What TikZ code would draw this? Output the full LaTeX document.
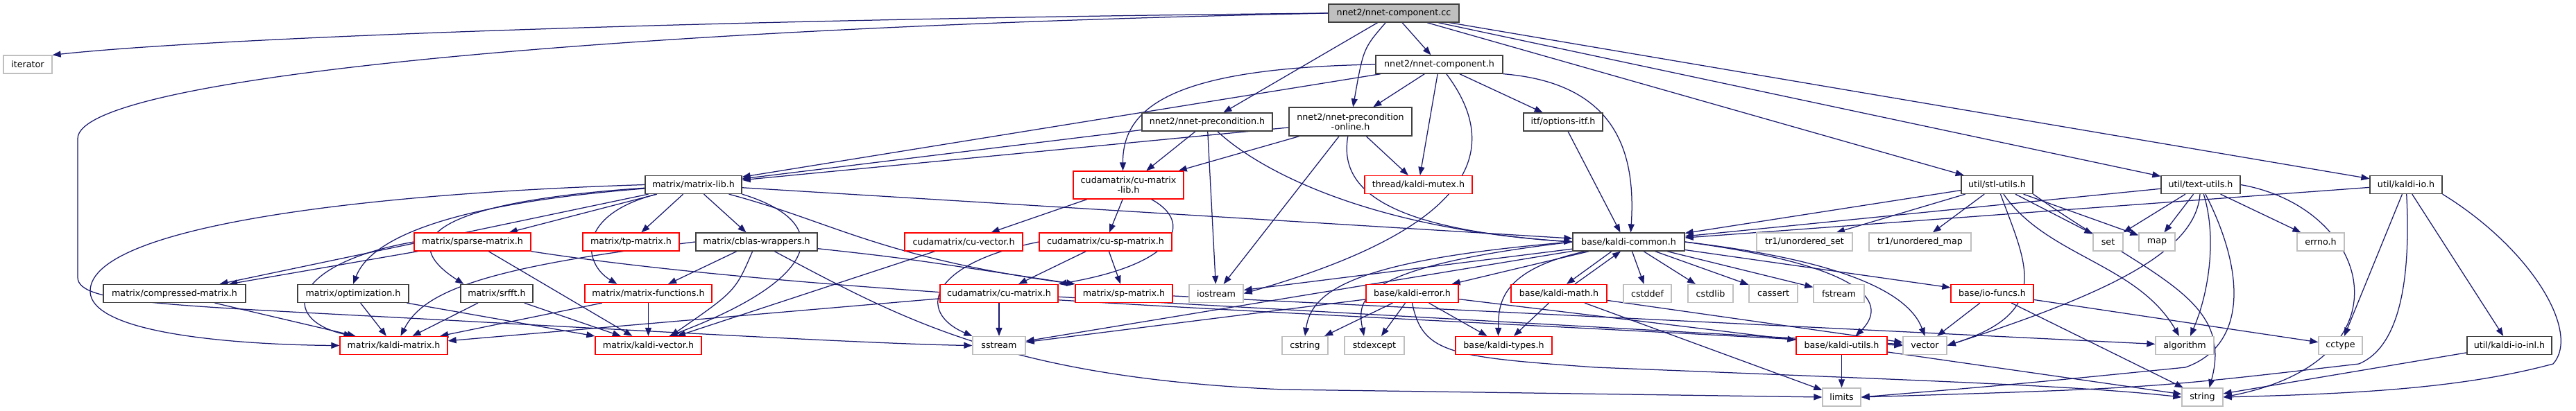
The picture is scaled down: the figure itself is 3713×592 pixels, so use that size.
\documentclass[tikz,border=0pt]{standalone}
\usepackage{fontspec}
\setmainfont{DejaVu Sans}
\usetikzlibrary{arrows.meta,backgrounds}
\definecolor{edgec}{HTML}{191970}
\definecolor{bordc}{HTML}{404040}
\definecolor{greyc}{HTML}{BFBFBF}
\definecolor{redc}{HTML}{FF0000}
\definecolor{rootc}{HTML}{BFBFBF}
\newcommand{\nfont}{\fontsize{12.7}{14}\selectfont}
\tikzset{
 nb/.style={rectangle, draw=bordc, fill=white, line width=1.3pt, minimum height=26pt, inner sep=0pt, font=\nfont, text=black, align=center},
 nr/.style={nb, draw=redc},
 ng/.style={nb, draw=greyc},
 nroot/.style={nb, fill=rootc},
 tall/.style={minimum height=41pt},
 ed/.style={draw=edgec, line width=1.25pt, -{Triangle[length=12pt,width=9pt]}},
}
\begin{document}
\begin{tikzpicture}[x=1pt,y=-1pt]
\useasboundingbox (0,0) rectangle (3713,592);
% row 0-3
\node[nroot, minimum width=188pt] (cc) at (2009,19) {nnet2/nnet-component.cc};
\node[ng, minimum width=70pt] (iter) at (40,93) {iterator};
\node[nb, minimum width=183pt] (comph) at (2074.5,93) {nnet2/nnet-component.h};
\node[nb, minimum width=188pt] (precond) at (1740,176) {nnet2/nnet-precondition.h};
\node[nb, tall, minimum width=177pt] (pol) at (1946.5,175.5) {nnet2/nnet-precondition\\-online.h};
\node[nb, minimum width=114pt] (opt) at (2253,176) {itf/options-itf.h};
\node[nb, minimum width=139pt] (mlib) at (999.5,266.5) {matrix/matrix-lib.h};
\node[nr, minimum height=40pt, minimum width=159pt] (culib) at (1626.5,267) {cudamatrix/cu-matrix\\-lib.h};
\node[nr, minimum width=155pt] (mutex) at (2044.5,266.5) {thread/kaldi-mutex.h};
\node[nb, minimum width=103pt] (stl) at (2878.5,266.5) {util/stl-utils.h};
\node[nb, minimum width=114pt] (text) at (3172,266.5) {util/text-utils.h};
\node[nb, minimum width=104pt] (kio) at (3468,266.5) {util/kaldi-io.h};
% row 4
\node[nr, minimum width=168pt] (sparse) at (681,349) {matrix/sparse-matrix.h};
\node[nr, minimum width=139pt] (tpm) at (909.5,349) {matrix/tp-matrix.h};
\node[nb, minimum width=175pt] (cblas) at (1090.5,349) {matrix/cblas-wrappers.h};
\node[nr, minimum width=170pt] (cuvec) at (1389,349) {cudamatrix/cu-vector.h};
\node[nr, minimum width=191pt] (cusp) at (1593.5,349) {cudamatrix/cu-sp-matrix.h};
\node[nb, minimum width=161pt] (common) at (2347.5,349) {base/kaldi-common.h};
\node[ng, minimum width=138pt] (uset) at (2601,349) {tr1/unordered\_set};
\node[ng, minimum width=147pt] (umap) at (2767.5,349) {tr1/unordered\_map};
\node[ng, minimum width=43pt] (set) at (3038.5,349) {set};
\node[ng, minimum width=52pt] (map) at (3109,349) {map};
\node[ng, minimum width=68pt] (errno) at (3345,349) {errno.h};
% row 5
\node[nb, minimum width=205pt] (cmat) at (251.5,423.5) {matrix/compressed-matrix.h};
\node[nb, minimum width=160pt] (optim) at (509,423.5) {matrix/optimization.h};
\node[nb, minimum width=104pt] (srfft) at (716,423.5) {matrix/srfft.h};
\node[nr, minimum width=183pt] (mfun) at (934.5,423.5) {matrix/matrix-functions.h};
\node[nr, minimum width=170pt] (cumat) at (1440,423.5) {cudamatrix/cu-matrix.h};
\node[nr, minimum width=140pt] (spm) at (1620,423.5) {matrix/sp-matrix.h};
\node[ng, minimum width=78pt] (iostream) at (1753,423.5) {iostream};
\node[nr, minimum width=133pt] (kerror) at (2035.5,423.5) {base/kaldi-error.h};
\node[nr, minimum width=138pt] (kmath) at (2247,423.5) {base/kaldi-math.h};
\node[ng, minimum width=69pt] (cstddef) at (2374.5,423.5) {cstddef};
\node[ng, minimum width=65pt] (cstdlib) at (2465.5,423.5) {cstdlib};
\node[ng, minimum width=70pt] (cassert) at (2556,423.5) {cassert};
\node[ng, minimum width=73pt] (fstream) at (2650.5,423.5) {fstream};
\node[nr, minimum width=119pt] (iofuncs) at (2871.5,423.5) {base/io-funcs.h};
% row 6
\node[nr, minimum width=155pt] (kmat) at (567.5,498.5) {matrix/kaldi-matrix.h};
\node[nr, minimum width=153pt] (kvec) at (934.5,498.5) {matrix/kaldi-vector.h};
\node[ng, minimum width=76pt] (sstream) at (1440,498.5) {sstream};
\node[ng, minimum width=66pt] (cstring) at (1881,498.5) {cstring};
\node[ng, minimum width=86pt] (stdexcept) at (1981,498.5) {stdexcept};
\node[nr, minimum width=139pt] (ktypes) at (2167.5,498.5) {base/kaldi-types.h};
\node[nr, minimum width=131pt] (kutils) at (2654.5,498.5) {base/kaldi-utils.h};
\node[ng, minimum width=63pt] (vector) at (2774.5,498.5) {vector};
\node[ng, minimum width=84pt] (algo) at (3149,498.5) {algorithm};
\node[ng, minimum width=63pt] (cctype) at (3373.5,498.5) {cctype};
\node[nb, minimum width=122pt] (kioinl) at (3617,498.5) {util/kaldi-io-inl.h};
% row 7
\node[ng, minimum width=55pt] (limits) at (2654.5,573) {limits};
\node[ng, minimum width=59pt] (string) at (3174.5,573) {string};

\begin{pgfonlayer}{background}
% cc
\draw[ed] (cc.west) .. controls (1000,28) and (300,55) .. (iter.north east);
\draw[ed] (cc.west) .. controls (900,40) and (112,110) .. (112,200) -- (112,400) .. controls (112,440) and (250,440) .. (700,465) .. controls (1100,487) and (1300,497) .. (sstream.west);
\draw[ed] (cc) -- (comph);
\draw[ed] (cc) -- (precond);
\draw[ed] (cc) .. controls (1965,70) .. (pol);
\draw[ed] (cc) -- (stl);
\draw[ed] (cc) -- (text);
\draw[ed] (cc) -- (kio);
% comph
\draw[ed] (comph) -- (mlib);
\draw[ed] (comph.west) .. controls (1700,98) and (1618,150) .. ([xshift=-8pt]culib.north);
\draw[ed] (comph) -- (pol);
\draw[ed] (comph) -- (mutex);
\draw[ed] (comph) -- (opt);
\draw[ed] (comph) .. controls (2170,220) and (2120,330) .. (iostream.east);
\draw[ed] (comph.south east) .. controls (2330,120) and (2358,220) .. ([xshift=3pt]common.north);
% precond
\draw[ed] (precond) -- (mlib);
\draw[ed] (precond) -- (culib);
\draw[ed] (precond) -- (iostream);
\draw[ed] (precond) .. controls (1820,250) and (1980,330) .. (common.west);
% pol
\draw[ed] (pol) -- (mlib);
\draw[ed] (pol) -- (culib);
\draw[ed] (pol) -- (iostream);
\draw[ed] (pol) -- (mutex);
\draw[ed] (pol) .. controls (1930,270) and (1990,330) .. (common.west);
% opt
\draw[ed] (opt) -- ([xshift=-12pt]common.north);
% mlib
\draw[ed] (mlib) -- (common);
\draw[ed] (mlib.west) .. controls (500,280) and (130,330) .. (130,420) .. controls (130,490) and (400,498) .. (kmat.west);
\draw[ed] (mlib) -- (sparse);
\draw[ed] (mlib) -- (cmat);
\draw[ed] (mlib) .. controls (700,290) and (540,330) .. (optim.north);
\draw[ed] (mlib) .. controls (650,290) and (560,340) .. ([xshift=5pt]srfft.north west);
\draw[ed] (mlib) .. controls (830,310) and (840,380) .. ([xshift=-45pt]mfun.north);
\draw[ed] (mlib) -- (tpm);
\draw[ed] (mlib) -- (cblas);
\draw[ed] (mlib.south east) .. controls (1200,320) and (1190,400) .. ([xshift=30pt]kvec.north);
\draw[ed] (mlib) .. controls (1200,320) and (1270,372) .. (spm.north west);
% culib
\draw[ed] (culib) -- (cuvec);
\draw[ed] (culib) -- (cusp);
\draw[ed] ([xshift=33pt]culib.south) .. controls (1720,320) and (1700,380) .. (cumat.north east);
% sparse
\draw[ed] (sparse.west) .. controls (420,380) and (400,460) .. ([xshift=-60pt]kmat.north);
\draw[ed] (sparse) -- (cmat);
\draw[ed] (sparse) -- (kvec);
\draw[ed] (sparse.south east) .. controls (1200,430) and (2000,455) .. (vector.west);
% matrix row 5
\draw[ed] (cmat) -- ([xshift=-55pt]kmat.north);
\draw[ed] (optim) -- (kmat);
\draw[ed] (optim) -- (kvec);
\draw[ed] (srfft) -- (kmat);
\draw[ed] (srfft) -- (kvec);
\draw[ed] (mfun) -- (kmat);
\draw[ed] (mfun) -- (kvec);
% cblas
\draw[ed] (cblas) -- (mfun);
\draw[ed] (cblas) .. controls (1060,420) .. ([xshift=32pt]kvec.north);
\draw[ed] (cblas.west) .. controls (700,385) and (610,420) .. ([xshift=10pt]kmat.north);
\draw[ed] (cblas) .. controls (1300,372) .. (spm.north west);
\draw[ed] (cblas) .. controls (1300,460) and (1450,545) .. (1850,562) -- (limits.west);
% cuda
\draw[ed] (cuvec) -- (kvec);
\draw[ed] (cusp) -- (cumat);
\draw[ed] (cusp) -- (spm);
\draw[ed] (cusp.west) .. controls (1340,380) and (1320,450) .. (sstream.north west);
\draw[ed] (cumat) -- (sstream);
\draw[ed] (cumat) -- (kmat);
\draw[ed] (cumat) -- (vector);
\draw[ed] (spm) -- (algo);
% common
\draw[ed] (common.west) .. controls (1950,375) and (1890,420) .. (cstring.north);
\draw[ed] (common.west) .. controls (1960,385) and (1955,430) .. ([xshift=-15pt]stdexcept.north);
\draw[ed] (common) -- (kerror);
\draw[ed] (common) .. controls (2160,390) and (2160,440) .. ([xshift=-8pt]ktypes.north);
\draw[ed] ([xshift=-24.5pt]common.south) -- ([xshift=11pt]kmath.north);
\draw[ed] ([xshift=23pt]kmath.north) -- ([xshift=-11.5pt]common.south);
\draw[ed] (common) -- (cstddef);
\draw[ed] (common) -- (cstdlib);
\draw[ed] (common) -- (cassert);
\draw[ed] (common) -- (fstream);
\draw[ed] (common) -- (iofuncs);
\draw[ed] (common.east) .. controls (2700,385) and (2720,440) .. ([xshift=20pt]kutils.north);
\draw[ed] (common.east) .. controls (2650,375) and (2750,420) .. (vector.north);
\draw[ed] (common) -- (iostream);
\draw[ed] (common) -- (sstream);
% kerror
\draw[ed] (kerror) -- (cstring);
\draw[ed] (kerror) -- (stdexcept);
\draw[ed] (kerror) -- (ktypes);
\draw[ed] (kerror) -- (sstream);
\draw[ed] (kerror) -- (kutils);
\draw[ed] (kerror.south) .. controls (2050,510) and (2090,515) .. (2300,530) .. controls (2800,550) and (3000,557) .. (string.west);
% kmath
\draw[ed] (kmath) -- (ktypes);
\draw[ed] (kmath) -- (limits);
\draw[ed] (kmath) -- (vector);
% kutils
\draw[ed] (kutils) -- (limits);
\draw[ed] (kutils) -- (string);
% iofuncs
\draw[ed] (iofuncs) -- (vector);
\draw[ed] (iofuncs) -- (string);
\draw[ed] (iofuncs) -- (cctype);
% stl
\draw[ed] (stl) -- (common);
\draw[ed] (stl) -- (uset);
\draw[ed] (stl) -- (umap);
\draw[ed] (stl) -- (set);
\draw[ed] (stl) -- (map);
\draw[ed] (stl) .. controls (2920,380) and (2960,450) .. (vector.east);
\draw[ed] (stl) .. controls (2950,370) and (3080,380) .. ([xshift=-8pt]algo.north);
\draw[ed] (stl.south east) .. controls (3100,400) and (3220,430) .. ([xshift=10pt]string.north);
% text
\draw[ed] (text) -- (common);
\draw[ed] (text) -- (set);
\draw[ed] (text) -- (map);
\draw[ed] (text) -- (errno);
\draw[ed] (text) .. controls (3165,360) and (3050,420) .. (vector.east);
\draw[ed] (text) .. controls (3195,340) and (3185,420) .. ([xshift=8pt]algo.north);
\draw[ed] (text) .. controls (3240,400) and (3235,500) .. (3150,530) .. controls (2900,555) .. (limits.east);
\draw[ed] (text.east) .. controls (3420,300) and (3480,520) .. (string.east);
% kio
\draw[ed] (kio) -- (common);
\draw[ed] (kio) -- (cctype);
\draw[ed] (kio) -- (kioinl);
\draw[ed] (kio) .. controls (3475,400) and (3460,500) .. (3400,525) .. controls (3100,560) .. (limits.east);
\draw[ed] (kio.south east) .. controls (3650,360) and (3720,480) .. (3680,525) .. controls (3550,560) and (3400,568) .. (string.east);
\draw[ed] (kioinl) -- (string);
\end{pgfonlayer}
\end{tikzpicture}
\end{document}
